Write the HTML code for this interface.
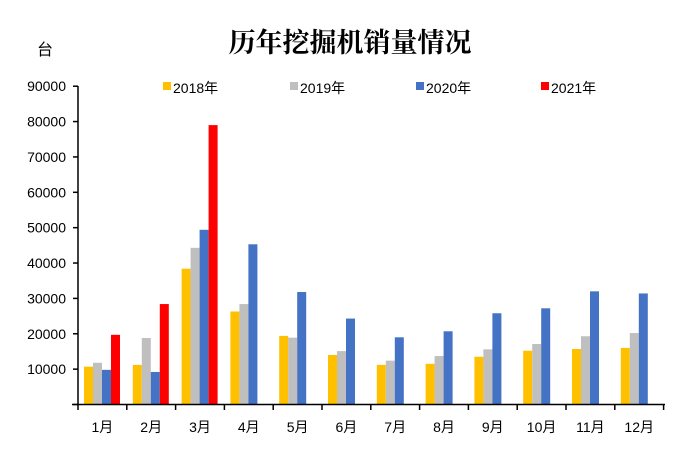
<!DOCTYPE html>
<html><head><meta charset="utf-8"><style>
body{margin:0;background:#fff;}
svg text{font-family:"Liberation Sans","Noto Sans CJK SC",sans-serif;}
</style></head><body>
<svg width="686" height="459" viewBox="0 0 686 459" xmlns="http://www.w3.org/2000/svg">
<rect width="686" height="459" fill="#fff"/>
<text x="350" y="52" text-anchor="middle" font-size="27" font-weight="bold" style="font-family:'Noto Serif CJK SC',serif">历年挖掘机销量情况</text>
<text x="45" y="55" text-anchor="middle" font-size="16">台</text>
<g font-size="14">
<rect x="163" y="82" width="8" height="8" fill="#FFC000"/><text x="173" y="93">2018年</text>
<rect x="290" y="82" width="8" height="8" fill="#BFBFBF"/><text x="300" y="93">2019年</text>
<rect x="416" y="82" width="8" height="8" fill="#4472C4"/><text x="426" y="93">2020年</text>
<rect x="541" y="82" width="8" height="8" fill="#FF0000"/><text x="551" y="93">2021年</text>
</g>
<g id="bars"></g>
<g font-size="14" text-anchor="end" id="yl"></g>
<g font-size="14" text-anchor="middle" id="xl"></g>
<line x1="78" y1="86" x2="78" y2="405" stroke="#000" stroke-width="1.5"/>
<line x1="72" y1="404.5" x2="665" y2="404.5" stroke="#000" stroke-width="1.5"/>
<g id="tk" stroke="#000" stroke-width="1.5"></g>
</svg>
<script>
var d=[[10700,11800,9800,19700],[11200,18800,9200,28400],[38400,44300,49400,79000],[26300,28400,45300],[19400,18900,31800],[14000,15100,24300],[11200,12400,19000],[11500,13700,20700],[13500,15600,25800],[15200,17100,27200],[15700,19300,32000],[16000,20200,31400]];
var c=["#FFC000","#BFBFBF","#4472C4","#FF0000"];
var ns="http://www.w3.org/2000/svg";
function el(p,t,a,tx){var e=document.createElementNS(ns,t);for(var k in a)e.setAttribute(k,a[k]);if(tx)e.textContent=tx;document.getElementById(p).appendChild(e);}
var x0=78,w=48.8,y0=404.5,s=318.3/90000;
for(var i=0;i<12;i++){var gx=x0+i*w;
for(var j=0;j<d[i].length;j++){var h=d[i][j]*s;el("bars","rect",{x:gx+6+j*9,y:y0-h,width:9,height:h,fill:c[j]});}
el("xl","text",{x:gx+w/2,y:432},(i+1)+"月");
el("tk","line",{x1:gx+w,y1:404,x2:gx+w,y2:410});}
el("tk","line",{x1:x0,y1:404,x2:x0,y2:410});
for(var v=0;v<=90000;v+=10000){var y=y0-v*s;el("yl","text",{x:66,y:y+5},v);el("tk","line",{x1:73,y1:y,x2:78,y2:y});}
</script>
</body></html>
